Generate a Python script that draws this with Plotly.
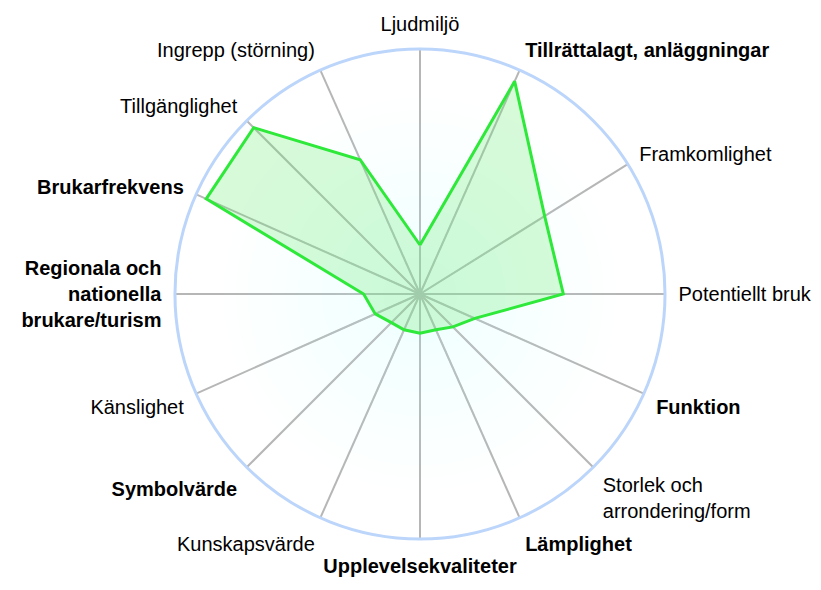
import numpy as np
import plotly.graph_objects as go

# Categories (clockwise from top), spoke angles (degrees) and values (0-10 scale)
categories = [
    "Ljudmiljö",
    "<b>Tillrättalagt, anläggningar</b>",
    "Framkomlighet",
    "Potentiellt bruk",
    "<b>Funktion</b>",
    "Storlek och<br>arrondering/form",
    "<b>Lämplighet</b>",
    "<b>Upplevelsekvaliteter</b>",
    "Kunskapsvärde",
    "<b>Symbolvärde</b>",
    "Känslighet",
    "<b>Regionala och<br>nationella<br>brukare/turism</b>",
    "<b>Brukarfrekvens</b>",
    "Tillgänglighet",
    "Ingrepp (störning)",
]
spoke_angles = [0, 24, 58, 90, 114, 135, 156, 180, 204, 225, 246, 270, 294, 315, 336]
values = [2.0, 9.5, 6.0, 5.85, 2.45, 1.9, 1.6, 1.6, 1.6, 1.65, 2.0, 2.3, 9.55, 9.6, 6.0]

R_MAX = 10

fig = go.Figure()

# soft radial glow in the background (stacked translucent discs)
circle_theta = np.linspace(0, 360, 121)
n_glow = 16
for k in range(n_glow):
    rr = R_MAX * 0.8 * (n_glow - k) / n_glow
    fig.add_trace(go.Scatterpolar(
        r=[rr] * len(circle_theta), theta=circle_theta,
        mode="lines", line=dict(width=0, color="rgba(0,0,0,0)"),
        fill="toself", fillcolor="rgba(195,238,240,0.016)",
        hoverinfo="skip", showlegend=False,
    ))

fig.add_trace(go.Scatterpolar(
    r=values + values[:1],
    theta=spoke_angles + spoke_angles[:1],
    mode="lines",
    line=dict(color="#2ee83a", width=3),
    fill="toself",
    fillcolor="rgba(100,235,110,0.26)",
    showlegend=False,
))

fig.update_layout(
    width=821, height=590,
    margin=dict(l=0, r=0, t=0, b=0),
    paper_bgcolor="white",
    font=dict(family="Liberation Sans, Arial, sans-serif", size=20, color="black"),
    polar=dict(
        domain=dict(x=[0.2131, 0.81], y=[0.0864, 0.917]),
        bgcolor="white",
        radialaxis=dict(range=[0, R_MAX], visible=False, showgrid=False),
        angularaxis=dict(
            rotation=90, direction="clockwise",
            tickmode="array", tickvals=spoke_angles, ticktext=categories,
            showgrid=True, gridcolor="#b6b6b6", gridwidth=2,
            showline=True, linecolor="#bcd5fa", linewidth=3,
            ticks="outside", ticklen=8, tickcolor="rgba(0,0,0,0)",
            tickfont=dict(size=20, color="black"),
        ),
    ),
)

fig.write_html(
    "out.html",
    config={"displayModeBar": False},
    post_script="document.body.style.margin='0';window.dispatchEvent(new Event('resize'));",
)
